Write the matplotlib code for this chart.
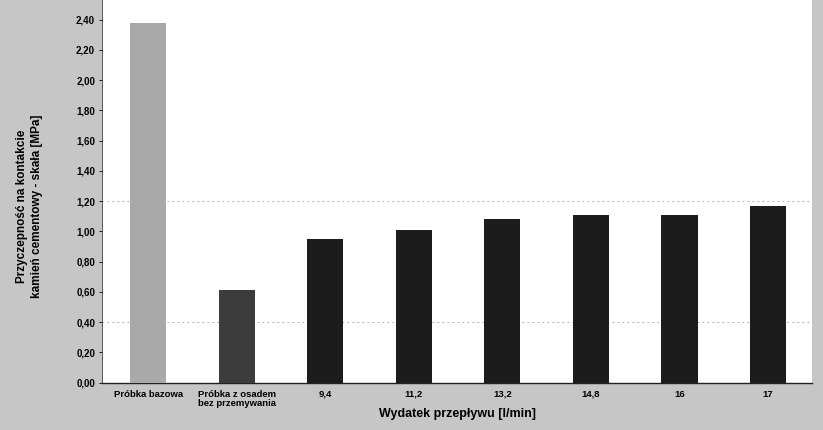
import matplotlib.pyplot as plt
import numpy as np

plt.rcParams['font.family'] = ['Liberation Sans', 'DejaVu Sans']

categories = ['Próbka bazowa', 'Próbka z osadem\nbez przemywania', '9,4', '11,2', '13,2', '14,8', '16', '17']
values = [2.38, 0.61, 0.95, 1.01, 1.08, 1.11, 1.11, 1.17]
colors = ['#a9a9a9', '#3c3c3c', '#1c1c1c', '#1c1c1c', '#1c1c1c', '#1c1c1c', '#1c1c1c', '#1c1c1c']
yticks = [0.0, 0.2, 0.4, 0.6, 0.8, 1.0, 1.2, 1.4, 1.6, 1.8, 2.0, 2.2, 2.4]

fig = plt.figure(figsize=(8.23, 4.30), dpi=100, facecolor='#c6c6c6')
ax = fig.add_axes([0.124, 0.110, 0.863, 0.890])
ax.set_facecolor('white')

x = np.arange(len(categories))
ax.bar(x, values, width=0.41, color=colors, zorder=3)

for g in [0.4, 1.2]:
    ax.axhline(g, color='#999999', lw=0.6, ls=(0, (2, 4)), zorder=1)

ax.set_xlim(-0.52, 7.5)
ax.set_ylim(0, 2.53)
ax.set_yticks(yticks)
ax.set_yticklabels([f'{v:.2f}'.replace('.', ',') for v in yticks],
                   fontsize=7, fontweight='bold')
ax.set_xticks(x)
ax.set_xticklabels(categories, fontsize=6.8, fontweight='bold', linespacing=1.05, va='top')
ax.tick_params(axis='x', length=0, pad=5)
ax.tick_params(axis='y', length=2, width=0.6, pad=3)

for s in ['top', 'right']:
    ax.spines[s].set_visible(False)
ax.spines['left'].set_color('#555555')
ax.spines['left'].set_linewidth(0.7)
ax.spines['left'].set_linestyle((0, (3, 1)))
ax.spines['bottom'].set_color('#222222')
ax.spines['bottom'].set_linewidth(1.0)

ax.set_xlabel('Wydatek przepływu [l/min]', fontsize=9, fontweight='bold', labelpad=0)
ax.set_ylabel('Przyczepność na kontakcie\nkamień cementowy - skała [MPa]',
              fontsize=8.5, fontweight='bold', linespacing=1.35)
ax.yaxis.set_label_coords(-0.083, 0.462)

plt.savefig('out.png', dpi=100, facecolor=fig.get_facecolor())
